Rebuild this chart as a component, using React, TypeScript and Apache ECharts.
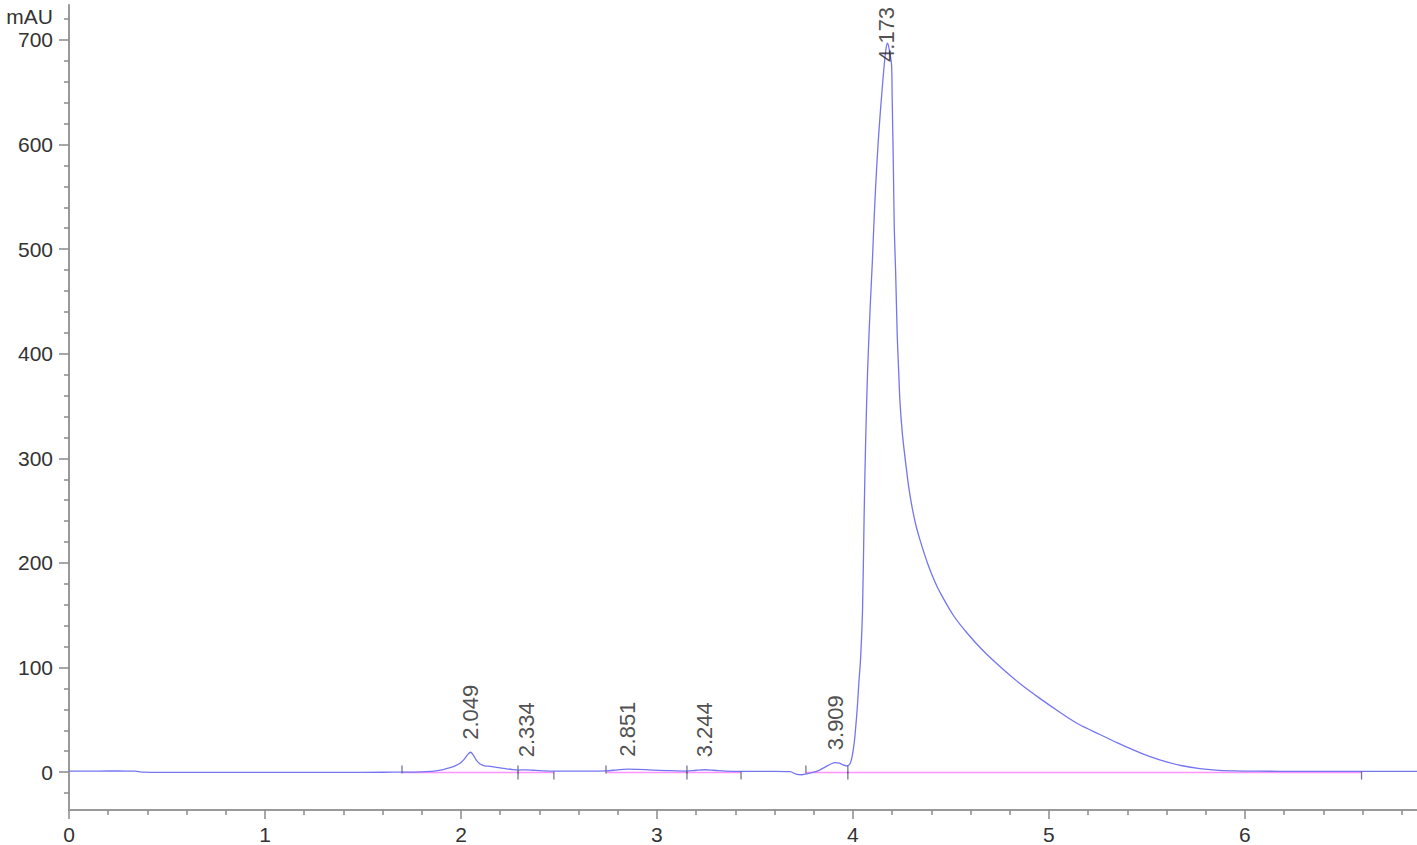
import React, { useEffect, useRef } from "react";
import * as echarts from "echarts";

// Chromatogram trace (retention time in min, signal in mAU)
const traceTimes = [
  0, 0.1, 0.2, 0.3, 0.34, 0.37, 0.5, 0.8, 1.1, 1.4, 1.6, 1.7, 1.8, 1.85, 1.88, 1.91, 1.94, 1.97, 1.995,
  2.015, 2.035, 2.049, 2.062, 2.08, 2.1, 2.12, 2.15, 2.18, 2.22, 2.26, 2.29, 2.334, 2.37, 2.42, 2.47,
  2.55, 2.65, 2.74, 2.8, 2.851, 2.9, 2.98, 3.05, 3.15, 3.2, 3.244, 3.29, 3.35, 3.43, 3.5, 3.6, 3.68,
  3.71, 3.74, 3.77, 3.8, 3.83, 3.86, 3.89, 3.909, 3.93, 3.95, 3.97, 3.985, 3.995, 4.007, 4.015, 4.022,
  4.03, 4.039, 4.049, 4.057, 4.065, 4.075, 4.088, 4.099, 4.106, 4.112, 4.121, 4.133, 4.146, 4.16, 4.17,
  4.177, 4.186, 4.197, 4.2, 4.203, 4.206, 4.211, 4.218, 4.226, 4.233, 4.24, 4.253, 4.274, 4.285, 4.3,
  4.32, 4.342, 4.38, 4.418, 4.444, 4.512, 4.58, 4.657, 4.75, 4.85, 4.95, 5.05, 5.15, 5.26, 5.35, 5.43,
  5.52, 5.6, 5.68, 5.77, 5.85, 5.94, 6.05, 6.3, 6.6, 6.878,
];
const traceSignal = [
  1.0, 1.0, 1.1, 1.0, 0.9, 0.0, -0.2, -0.2, -0.2, -0.2, -0.1, 0.0, 0.3, 0.8, 1.5, 2.5, 4, 6, 8.5,
  12, 17, 19, 16.5, 11, 7.5, 6, 5.5, 4.5, 3.5, 2.5, 2.0, 2.2, 1.8, 1.3, 1.0,
  1.0, 1.0, 1.2, 2.2, 2.8, 2.6, 2.0, 1.5, 1.0, 1.8, 2.3, 1.8, 1.0, 0.8, 0.8, 0.8, 0.5,
  -2, -2.5, -1.5, 0, 2, 5, 8, 9, 8.5, 7, 6, 8, 14, 29, 45, 61,
  85, 109, 156, 245, 318, 385, 445, 488, 520, 545, 578, 614, 646, 677, 693,
  697, 690, 676, 646, 614, 582, 519, 477, 417, 385, 354, 322, 288, 272, 255,
  237, 222, 200, 182, 172, 150, 133.5, 117.5, 101, 85, 71, 58, 46, 36, 28, 21.3,
  14.5, 9.7, 6.1, 3.4, 2.0, 1.3, 0.9, 0.8, 0.8, 0.8,
];

// Integrated peaks
const peakTimes = [2.049, 2.334, 2.851, 3.244, 3.909, 4.173];
const peakHeights = [19, 2.2, 2.8, 2.3, 9, 697];
const peakStarts = [1.699, 2.291, 2.74, 3.153, 3.76, 3.974];
const peakEnds = [2.291, 2.474, 3.153, 3.429, 3.974, 6.595];
// Drawn baselines (times joined into continuous segments)
const baselineSegments = [
  [1.699, 2.291, 2.474],
  [2.74, 3.153, 3.429],
  [3.76, 3.974, 6.595],
];
const baselineLevel = -0.4;

// Axes
const yMajorTicks = [0, 100, 200, 300, 400, 500, 600, 700];
const yMinorTicks = [
  -20, 20, 40, 60, 80, 120, 140, 160, 180, 220, 240, 260, 280, 320, 340, 360, 380, 420, 440, 460, 480,
  520, 540, 560, 580, 620, 640, 660, 680, 720,
];
const xMajorTicks = [0, 1, 2, 3, 4, 5, 6];
const xMinorTicks = [
  0.2, 0.4, 0.6, 0.8, 1.2, 1.4, 1.6, 1.8, 2.2, 2.4, 2.6, 2.8, 3.2, 3.4, 3.6, 3.8, 4.2, 4.4, 4.6, 4.8,
  5.2, 5.4, 5.6, 5.8, 6.2, 6.4, 6.6, 6.8,
];
const yMin = -36.2;
const yMax = 733.4;
const xMin = 0;
const xMax = 6.878;
const labelTopCap = 667;

const FONT = "'Liberation Sans', Arial, Helvetica, sans-serif";
const AXIS_COLOR = "#9a9a9a";
const TICK_COLOR = "#8a8a8a";
const TEXT_COLOR = "#333333";

export default function App() {
  const ref = useRef<HTMLDivElement>(null);

  useEffect(() => {
    document.body.style.margin = "0";
    if (!ref.current) return;
    const chart = echarts.init(ref.current, undefined, { renderer: "svg" });

    const trace = traceTimes.map((t, i) => [t, traceSignal[i]]);

    const baselineSeries = baselineSegments.map((seg) => ({
      type: "line",
      data: seg.map((t) => [t, baselineLevel]),
      showSymbol: false,
      symbol: "none",
      silent: true,
      lineStyle: { color: "#ff80ff", width: 1.6, opacity: 0.85 },
      z: 3,
    }));

    const common = (i: number) => ({ xAxisIndex: 0, yAxisIndex: 0, z: 4 + i });

    const option: any = {
      animation: false,
      backgroundColor: "#ffffff",
      grid: { left: 69, right: 0, top: 5, bottom: 33, containLabel: false },
      xAxis: [
        {
          type: "value",
          position: "bottom",
          min: xMin,
          max: xMax,
          axisLine: { show: true, onZero: false, lineStyle: { color: AXIS_COLOR, width: 2 } },
          axisTick: { show: true, customValues: xMajorTicks, length: 9, lineStyle: { color: TICK_COLOR, width: 1.5 } },
          axisLabel: {
            customValues: xMajorTicks,
            margin: 14,
            color: TEXT_COLOR,
            fontSize: 21,
            fontFamily: FONT,
          },
          splitLine: { show: false },
        },
        {
          type: "value",
          position: "bottom",
          offset: 0,
          min: xMin,
          max: xMax,
          axisLine: { show: false, onZero: false },
          axisTick: { show: true, customValues: xMinorTicks, length: 5, lineStyle: { color: TICK_COLOR, width: 1.5 } },
          axisLabel: { show: false },
          splitLine: { show: false },
        },
      ],
      yAxis: [
        {
          type: "value",
          position: "left",
          min: yMin,
          max: yMax,
          axisLine: { show: true, onZero: false, lineStyle: { color: AXIS_COLOR, width: 2 } },
          axisTick: { show: true, customValues: yMajorTicks, length: 10, lineStyle: { color: TICK_COLOR, width: 1.5 } },
          axisLabel: {
            customValues: yMajorTicks,
            margin: 16,
            color: TEXT_COLOR,
            fontSize: 21,
            fontFamily: FONT,
          },
          splitLine: { show: false },
        },
        {
          type: "value",
          position: "left",
          offset: 0,
          min: yMin,
          max: yMax,
          axisLine: { show: false, onZero: false },
          axisTick: { show: true, customValues: yMinorTicks, length: 5, lineStyle: { color: TICK_COLOR, width: 1.5 } },
          axisLabel: { show: false },
          splitLine: { show: false },
        },
      ],
      graphic: [
        {
          type: "text",
          x: 53,
          y: 16,
          style: {
            text: "mAU",
            fill: TEXT_COLOR,
            font: `21px ${FONT}`,
            align: "right",
            verticalAlign: "middle",
          },
        },
      ],
      series: [
        {
          type: "line",
          name: "signal",
          data: trace,
          showSymbol: false,
          symbol: "none",
          silent: true,
          smooth: 0.3,
          lineStyle: { color: "#7575f2", width: 1.3 },
          ...common(0),
        },
        ...baselineSeries,
        {
          type: "scatter",
          name: "peak starts",
          data: peakStarts.map((t) => [t, baselineLevel]),
          symbol: "rect",
          symbolSize: [1.3, 8],
          symbolOffset: [0, -3],
          itemStyle: { color: "#555577" },
          silent: true,
          ...common(3),
        },
        {
          type: "scatter",
          name: "peak ends",
          data: peakEnds.map((t) => [t, baselineLevel]),
          symbol: "rect",
          symbolSize: [1.3, 8],
          symbolOffset: [0, 3],
          itemStyle: { color: "#555577" },
          silent: true,
          ...common(3),
        },
        {
          type: "scatter",
          name: "peak labels",
          data: peakTimes.map((t, i) => [t, Math.min(peakHeights[i], labelTopCap)]),
          symbolSize: 1,
          itemStyle: { color: "rgba(0,0,0,0)" },
          silent: true,
          label: {
            show: true,
            position: "top",
            distance: 12,
            rotate: 90,
            align: "left",
            verticalAlign: "middle",
            color: "#222222",
            fontSize: 22,
            fontFamily: FONT,
            formatter: (p: any) => p.value[0].toFixed(3),
          },
          ...common(5),
        },
      ],
    };

    chart.setOption(option);
    return () => chart.dispose();
  }, []);

  return <div ref={ref} style={{ width: 1417, height: 845, background: "#fff" }} />;
}
